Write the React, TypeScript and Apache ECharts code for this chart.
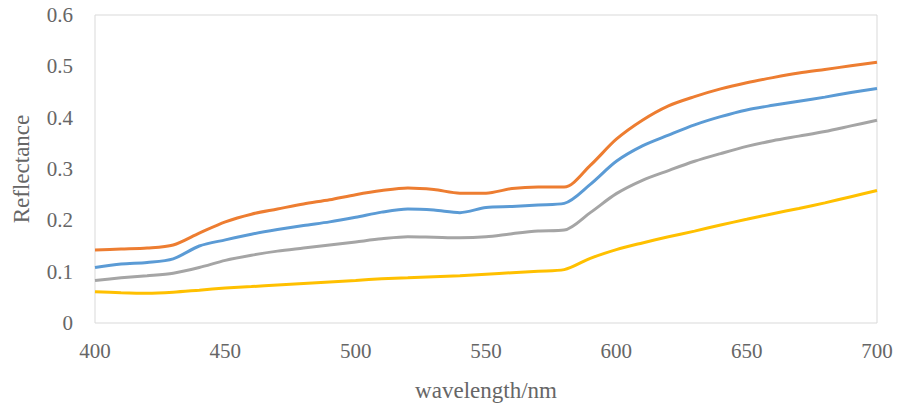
import React, { useEffect, useRef } from "react";
import * as echarts from "echarts";

const wavelengths = [400, 410, 420, 430, 440, 450, 460, 470, 480, 490, 500, 510, 520, 530, 540, 550, 560, 570, 580, 590, 600, 610, 620, 630, 640, 650, 660, 670, 680, 690, 700];

const orangeValues = [0.142, 0.144, 0.146, 0.152, 0.175, 0.197, 0.212, 0.222, 0.232, 0.24, 0.25, 0.258, 0.263, 0.26, 0.253, 0.253, 0.262, 0.265, 0.265, 0.307, 0.358, 0.395, 0.423, 0.441, 0.456, 0.468, 0.478, 0.487, 0.494, 0.501, 0.508];
const blueValues = [0.108, 0.115, 0.118, 0.125, 0.15, 0.162, 0.173, 0.182, 0.19, 0.197, 0.206, 0.216, 0.222, 0.22, 0.215, 0.225, 0.227, 0.23, 0.233, 0.27, 0.315, 0.345, 0.366, 0.386, 0.402, 0.415, 0.424, 0.432, 0.44, 0.449, 0.457];
const grayValues = [0.083, 0.088, 0.092, 0.097, 0.108, 0.122, 0.132, 0.14, 0.146, 0.152, 0.158, 0.164, 0.168, 0.167, 0.166, 0.168, 0.174, 0.179, 0.181, 0.215, 0.252, 0.278, 0.297, 0.315, 0.33, 0.344, 0.355, 0.364, 0.373, 0.384, 0.395];
const yellowValues = [0.061, 0.059, 0.058, 0.06, 0.064, 0.068, 0.071, 0.074, 0.077, 0.08, 0.083, 0.086, 0.088, 0.09, 0.092, 0.095, 0.098, 0.101, 0.104, 0.126, 0.143, 0.156, 0.168, 0.179, 0.191, 0.202, 0.213, 0.223, 0.234, 0.246, 0.258];

const seriesDefs = [
  { name: "S1", values: orangeValues, color: "#ED7D31" },
  { name: "S2", values: blueValues, color: "#5B9BD5" },
  { name: "S3", values: grayValues, color: "#A5A5A5" },
  { name: "S4", values: yellowValues, color: "#FFC000" },
];

const FONT = "'Liberation Serif', 'Times New Roman', serif";

export default function App() {
  const ref = useRef<HTMLDivElement>(null);
  useEffect(() => {
    if (!ref.current) return;
    const chart = echarts.init(ref.current, null, { renderer: "svg" });
    chart.setOption({
      animation: false,
      backgroundColor: "#ffffff",
      grid: {
        left: 95,
        right: 22,
        top: 15,
        bottom: 83,
        outerBoundsMode: "none",
        containLabel: false,
        show: true,
        borderColor: "#d9d9d9",
        borderWidth: 1,
      },
      xAxis: {
        type: "value",
        min: 400,
        max: 700,
        interval: 50,
        name: "wavelength/nm",
        nameLocation: "middle",
        nameGap: 56,
        nameTextStyle: { fontFamily: FONT, fontSize: 23, color: "#666666" },
        axisLine: { show: false },
        axisTick: { show: false },
        splitLine: { show: false },
        axisLabel: { fontFamily: FONT, fontSize: 21, color: "#666666", margin: 17 },
      },
      yAxis: {
        type: "value",
        min: 0,
        max: 0.6,
        interval: 0.1,
        name: "Reflectance",
        nameLocation: "middle",
        nameGap: 62,
        nameTextStyle: { fontFamily: FONT, fontSize: 23, color: "#666666" },
        axisLine: { show: false },
        axisTick: { show: false },
        splitLine: { show: false },
        axisLabel: { fontFamily: FONT, fontSize: 21, color: "#666666", margin: 22 },
      },
      series: seriesDefs.map((s) => ({
        name: s.name,
        type: "line",
        smooth: 0.3,
        symbol: "none",
        lineStyle: { color: s.color, width: 3 },
        itemStyle: { color: s.color },
        data: wavelengths.map((w, i) => [w, s.values[i]]),
      })),
    });
    return () => chart.dispose();
  }, []);
  return (
    <div
      ref={ref}
      style={{ position: "absolute", left: 0, top: 0, width: 899, height: 406 }}
    />
  );
}
